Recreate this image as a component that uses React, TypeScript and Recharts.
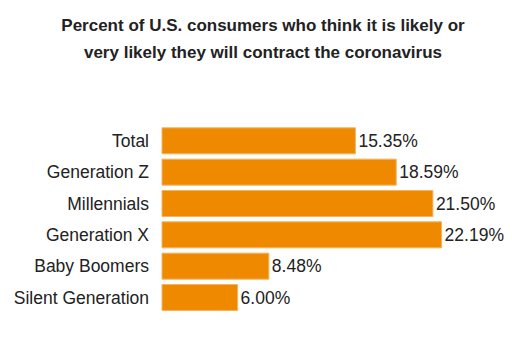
import { BarChart, Bar, XAxis, YAxis, LabelList } from "recharts";

const groups = [
  "Total",
  "Generation Z",
  "Millennials",
  "Generation X",
  "Baby Boomers",
  "Silent Generation",
];
const shares = [15.35, 18.59, 21.5, 22.19, 8.48, 6.0];

const data = groups.map((g, i) => ({ group: g, share: shares[i] }));

const font = "'Liberation Sans', Arial, sans-serif";

export default function App() {
  return (
    <div style={{ position: "absolute", top: 0, left: 0, width: 512, height: 356, background: "#fff" }}>
      <BarChart
        width={512}
        height={356}
        data={data}
        layout="vertical"
        margin={{ top: 125, right: 35, bottom: 43, left: 0 }}
        barCategoryGap="9%"
      >
        <text x={263} y={31} textAnchor="middle" fontFamily={font} fontSize={17} fontWeight="bold" fill="#222">
          Percent of U.S. consumers who think it is likely or
        </text>
        <text x={263} y={58} textAnchor="middle" fontFamily={font} fontSize={17} fontWeight="bold" fill="#222">
          very likely they will contract the coronavirus
        </text>
        <XAxis type="number" domain={[0, 25]} hide />
        <YAxis
          type="category"
          dataKey="group"
          width={162}
          axisLine={false}
          tickLine={false}
          tickSize={0}
          tickMargin={13}
          interval={0}
          tick={{ fill: "#222", fontSize: 17.5, fontFamily: font }}
        />
        <Bar dataKey="share" fill="#EF8A00" stroke="#F5B261" strokeWidth={1} isAnimationActive={false}>
          <LabelList
            dataKey="share"
            position="right"
            offset={3}
            formatter={(v: any) => `${Number(v).toFixed(2)}%`}
            style={{ fill: "#222", fontSize: 17.5, fontFamily: font }}
          />
        </Bar>
      </BarChart>
    </div>
  );
}
